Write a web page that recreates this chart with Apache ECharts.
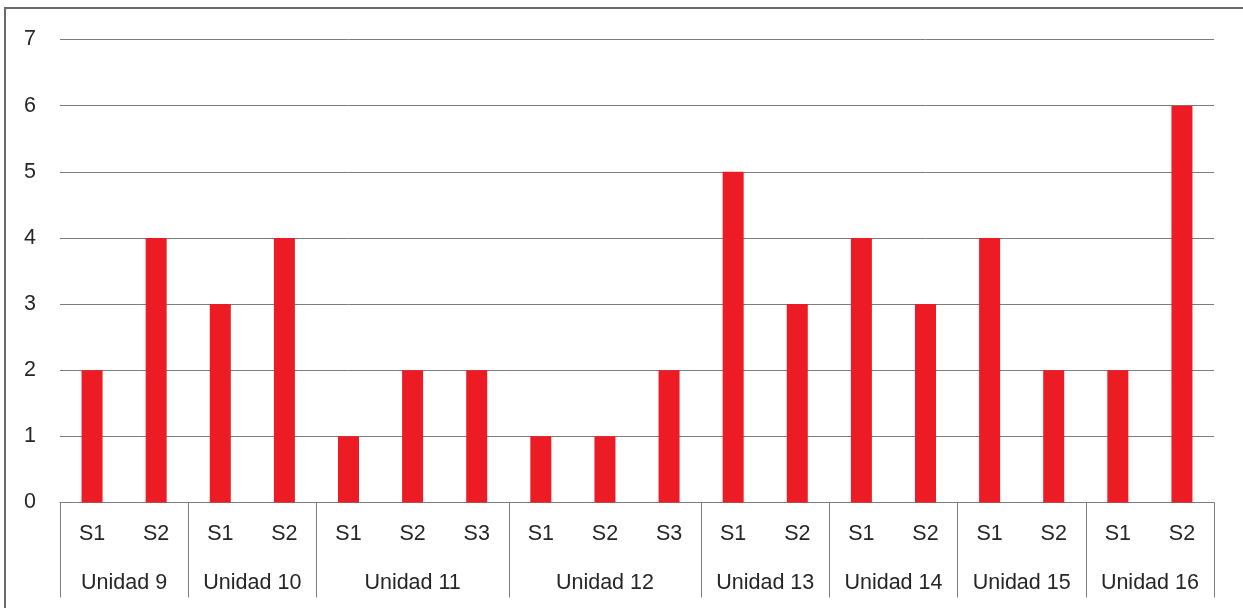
<!DOCTYPE html>
<html>
<head>
<meta charset="utf-8">
<script src="https://cdn.jsdelivr.net/npm/echarts@6/dist/echarts.min.js"></script>
<style>
  html, body { margin: 0; padding: 0; background: #ffffff; overflow: hidden; }
  #chart { position: absolute; left: 0; top: 0; width: 1243px; height: 608px; }
  #frame { position: absolute; left: 4px; top: 7px; width: 1300px; height: 700px;
           border-left: 2px solid #6a6a6a; border-top: 2px solid #6a6a6a; pointer-events: none; }
</style>
</head>
<body>
<div id="chart"></div>
<div id="frame"></div>
<script>
// Units and the sessions that belong to each one
const unidades = ['Unidad 9', 'Unidad 10', 'Unidad 11', 'Unidad 12', 'Unidad 13', 'Unidad 14', 'Unidad 15', 'Unidad 16'];
const sesionesPorUnidad = [2, 2, 3, 3, 2, 2, 2, 2];
const sesiones = ['S1', 'S2', 'S1', 'S2', 'S1', 'S2', 'S3', 'S1', 'S2', 'S3', 'S1', 'S2', 'S1', 'S2', 'S1', 'S2', 'S1', 'S2'];
const valores = [2, 4, 3, 4, 1, 2, 2, 1, 1, 2, 5, 3, 4, 3, 4, 2, 2, 6];
const yMax = 7;

// Unit boundaries and centres on a 0..n scale spanning the session slots
const limites = [0];
sesionesPorUnidad.forEach(n => limites.push(limites[limites.length - 1] + n));
const centros = unidades.map((_, i) => (limites[i] + limites[i + 1]) / 2);

const textColor = '#262626';
const lineColor = '#7c7c7c';
const fontFamily = 'Liberation Sans';
const fontSize = 21.5;

const chart = echarts.init(document.getElementById('chart'), null, { renderer: 'canvas' });
chart.setOption({
  animation: false,
  backgroundColor: 'transparent',
  grid: { left: 60, right: 29, top: 39.5, bottom: 105.5, containLabel: false },
  xAxis: [
    {
      type: 'category',
      data: sesiones,
      boundaryGap: true,
      axisLine: { show: true, lineStyle: { color: lineColor, width: 1 } },
      axisTick: { show: false },
      axisLabel: { color: textColor, fontFamily: fontFamily, fontSize: fontSize, margin: 21, interval: 0 },
      splitLine: { show: false }
    },
    {
      type: 'value',
      position: 'bottom',
      min: 0,
      max: sesiones.length,
      axisLine: { show: false },
      splitLine: { show: false },
      axisTick: {
        show: true,
        inside: false,
        length: 95,
        customValues: limites,
        lineStyle: { color: lineColor, width: 1 }
      },
      axisLabel: {
        show: true,
        customValues: centros,
        color: textColor,
        fontFamily: fontFamily,
        fontSize: fontSize,
        margin: 70,
        formatter: function (v) {
          const i = centros.indexOf(v);
          return i >= 0 ? unidades[i] : '';
        }
      }
    }
  ],
  yAxis: {
    type: 'value',
    min: 0,
    max: yMax,
    interval: 1,
    axisLine: { show: false },
    axisTick: { show: false },
    axisLabel: { color: textColor, fontFamily: fontFamily, fontSize: fontSize, margin: 24 },
    splitLine: { show: true, lineStyle: { color: lineColor, width: 1 } }
  },
  series: [
    {
      type: 'bar',
      xAxisIndex: 0,
      data: valores,
      barWidth: 21,
      itemStyle: { color: '#ED1C24' }
    }
  ]
});
</script>
</body>
</html>
